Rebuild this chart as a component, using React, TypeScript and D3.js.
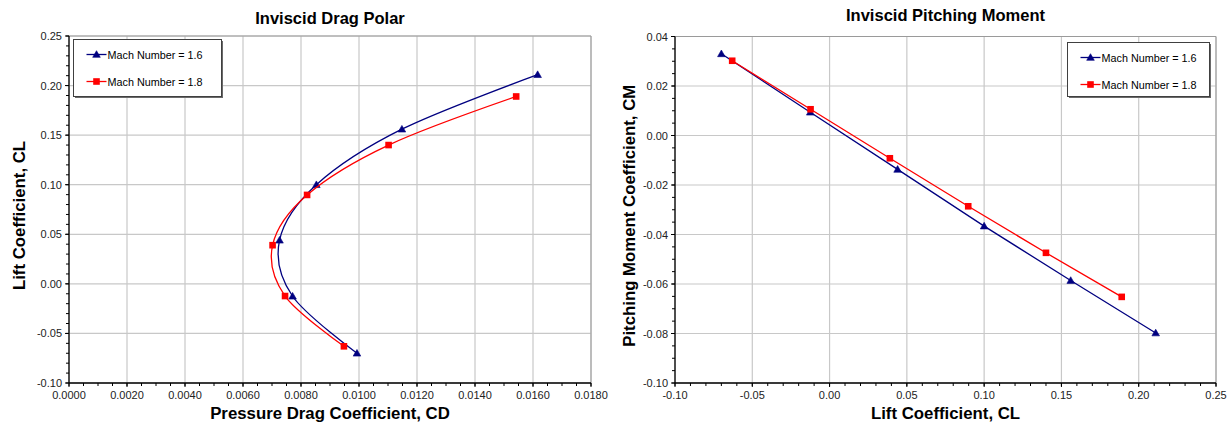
import React from "react";
import * as d3 from "d3";

// ---- Data ----
const SERIES_NAMES = ["Mach Number = 1.6", "Mach Number = 1.8"];

// Mach 1.6
const CL_M16 = [-0.07, -0.0125, 0.044, 0.1, 0.156, 0.211];
const CD_M16 = [0.00993, 0.00771, 0.00726, 0.00853, 0.01148, 0.01616];
const CM_M16 = [0.033, 0.0094, -0.0137, -0.0366, -0.0586, -0.0798];

// Mach 1.8
const CL_M18 = [-0.063, -0.0123, 0.039, 0.0897, 0.14, 0.189];
const CD_M18 = [0.00948, 0.00745, 0.00702, 0.00821, 0.01102, 0.01542];
const CM_M18 = [0.0302, 0.0106, -0.0092, -0.0286, -0.0474, -0.0652];

const COLORS = ["#000080", "#ff0000"];
const FONT = "'Liberation Sans', Arial, sans-serif";

type Series = { name: string; xs: number[]; ys: number[]; color: string; marker: "tri" | "sq" };

type ChartProps = {
  title: string;
  titleY: number;
  xLabel: string;
  yLabel: string;
  yLabelX: number;
  yLabelShift: number;
  xDomain: [number, number];
  yDomain: [number, number];
  xRange: [number, number];
  yRange: [number, number];
  xMajor: number;
  xMinor: number;
  yMajor: number;
  yMinor: number;
  xFmt: (v: number) => string;
  yFmt: (v: number) => string;
  series: Series[];
  smooth: boolean;
  legend: { x: number; y: number; w: number; h: number };
};

function fixZero(v: number) {
  return Math.abs(v) < 1e-12 ? 0 : v;
}

function Marker({ type, x, y, color }: { type: string; x: number; y: number; color: string }) {
  if (type === "tri") {
    const s = 3.8;
    return (
      <path
        d={`M${x},${y - s}L${x + s},${y + s * 0.75}L${x - s},${y + s * 0.75}Z`}
        fill={color}
        stroke={color}
        strokeWidth={0.6}
      />
    );
  }
  const s = 3.3;
  return <rect x={x - s} y={y - s} width={2 * s} height={2 * s} fill={color} />;
}

function Chart(p: ChartProps) {
  const x = d3.scaleLinear().domain(p.xDomain).range(p.xRange);
  const y = d3.scaleLinear().domain(p.yDomain).range(p.yRange);
  const xMaj = d3.ticks(p.xDomain[0], p.xDomain[1], p.xMajor).map(fixZero);
  const xMin = d3.ticks(p.xDomain[0], p.xDomain[1], p.xMinor).map(fixZero);
  const yMaj = d3.ticks(p.yDomain[0], p.yDomain[1], p.yMajor).map(fixZero);
  const yMin = d3.ticks(p.yDomain[0], p.yDomain[1], p.yMinor).map(fixZero);
  const [x0, x1] = p.xRange;
  const [yb, yt] = p.yRange;
  const line = d3
    .line<[number, number]>()
    .x((d) => x(d[0]))
    .y((d) => y(d[1]))
    .curve(p.smooth ? d3.curveCardinal.tension(0) : d3.curveLinear);
  const cx = (x0 + x1) / 2;
  const cy = (yb + yt) / 2 + p.yLabelShift;
  const L = p.legend;
  return (
    <g fontFamily={FONT}>
      <text x={cx} y={p.titleY} textAnchor="middle" fontWeight="bold" fontSize={16.5} fill="#000">
        {p.title}
      </text>
      {/* grid */}
      {xMaj.map((v, i) => (
        <line key={"gx" + i} x1={x(v)} x2={x(v)} y1={yb} y2={yt} stroke="#c8c8c8" strokeWidth={1.2} />
      ))}
      {yMaj.map((v, i) => (
        <line key={"gy" + i} x1={x0} x2={x1} y1={y(v)} y2={y(v)} stroke="#c8c8c8" strokeWidth={1.2} />
      ))}
      {/* frame */}
      <line x1={x0} x2={x1} y1={yt} y2={yt} stroke="#9a9a9a" strokeWidth={1} />
      <line x1={x1} x2={x1} y1={yt} y2={yb} stroke="#9a9a9a" strokeWidth={1} />
      {/* axes */}
      <line x1={x0} x2={x0} y1={yt} y2={yb} stroke="#000" strokeWidth={1.3} />
      <line x1={x0} x2={x1} y1={yb} y2={yb} stroke="#000" strokeWidth={1.3} />
      {xMin.map((v, i) => (
        <line key={"mx" + i} x1={x(v)} x2={x(v)} y1={yb} y2={yb + 3} stroke="#000" strokeWidth={1} />
      ))}
      {xMaj.map((v, i) => (
        <line key={"Mx" + i} x1={x(v)} x2={x(v)} y1={yb} y2={yb + 4} stroke="#000" strokeWidth={1} />
      ))}
      {yMin.map((v, i) => (
        <line key={"my" + i} x1={x0 - 3} x2={x0} y1={y(v)} y2={y(v)} stroke="#000" strokeWidth={1} />
      ))}
      {yMaj.map((v, i) => (
        <line key={"My" + i} x1={x0 - 4} x2={x0} y1={y(v)} y2={y(v)} stroke="#000" strokeWidth={1} />
      ))}
      {xMaj.map((v, i) => (
        <text key={"tx" + i} x={x(v)} y={yb + 16} textAnchor="middle" fontSize={11} fill="#222">
          {p.xFmt(v)}
        </text>
      ))}
      {yMaj.map((v, i) => (
        <text key={"ty" + i} x={x0 - 7} y={y(v) + 4} textAnchor="end" fontSize={11} fill="#222">
          {p.yFmt(v)}
        </text>
      ))}
      <text x={cx} y={yb + 36} textAnchor="middle" fontWeight="bold" fontSize={16.8} fill="#000">
        {p.xLabel}
      </text>
      <text
        transform={`translate(${p.yLabelX},${cy}) rotate(-90)`}
        textAnchor="middle"
        fontWeight="bold"
        fontSize={16.8}
        fill="#000"
      >
        {p.yLabel}
      </text>
      {/* series */}
      {p.series.map((s, si) => {
        const pts = s.xs.map((v, i) => [v, s.ys[i]] as [number, number]);
        return (
          <g key={"s" + si}>
            <path d={line(pts) || ""} fill="none" stroke={s.color} strokeWidth={1.3} />
            {pts.map((d, i) => (
              <Marker key={i} type={s.marker} x={x(d[0])} y={y(d[1])} color={s.color} />
            ))}
          </g>
        );
      })}
      {/* legend */}
      <rect x={L.x + 1.5} y={L.y + 1.5} width={L.w} height={L.h} fill="#6a6a6a" />
      <rect x={L.x} y={L.y} width={L.w} height={L.h} fill="#fff" stroke="#404040" strokeWidth={1} />
      {p.series.map((s, si) => {
        const ly = L.y + 15 + si * 27;
        const lx = L.x + 13;
        return (
          <g key={"l" + si}>
            <line x1={lx} x2={lx + 20} y1={ly} y2={ly} stroke={s.color} strokeWidth={1.3} />
            <Marker type={s.marker} x={lx + 10} y={ly} color={s.color} />
            <text x={lx + 21} y={ly + 4} fontSize={10.8} fill="#000">
              {s.name}
            </text>
          </g>
        );
      })}
    </g>
  );
}

const f2 = (v: number) => v.toFixed(2);
const f4 = (v: number) => v.toFixed(4);

export default function App() {
  const polarSeries: Series[] = [
    { name: SERIES_NAMES[0], xs: CD_M16, ys: CL_M16, color: COLORS[0], marker: "tri" },
    { name: SERIES_NAMES[1], xs: CD_M18, ys: CL_M18, color: COLORS[1], marker: "sq" },
  ];
  const momentSeries: Series[] = [
    { name: SERIES_NAMES[0], xs: CL_M16, ys: CM_M16, color: COLORS[0], marker: "tri" },
    { name: SERIES_NAMES[1], xs: CL_M18, ys: CM_M18, color: COLORS[1], marker: "sq" },
  ];
  return (
    <svg
      width={1231}
      height={425}
      style={{ position: "absolute", left: 0, top: 0, background: "#fff" }}
    >
      <rect x={0} y={0} width={1231} height={425} fill="#fff" />
      <Chart
        title="Inviscid Drag Polar"
        titleY={24}
        xLabel="Pressure Drag Coefficient, CD"
        yLabel="Lift Coefficient, CL"
        yLabelX={25}
        yLabelShift={6}
        xDomain={[0, 0.018]}
        yDomain={[-0.1, 0.25]}
        xRange={[69, 591]}
        yRange={[383, 36]}
        xMajor={9}
        xMinor={36}
        yMajor={7}
        yMinor={35}
        xFmt={f4}
        yFmt={f2}
        series={polarSeries}
        smooth={true}
        legend={{ x: 73.5, y: 39.5, w: 148, h: 57 }}
      />
      <Chart
        title="Inviscid Pitching Moment"
        titleY={21}
        xLabel="Lift Coefficient, CL"
        yLabel="Pitching Moment Coefficient, CM"
        yLabelX={635}
        yLabelShift={6}
        xDomain={[-0.1, 0.25]}
        yDomain={[-0.1, 0.04]}
        xRange={[675, 1216]}
        yRange={[383, 36.5]}
        xMajor={7}
        xMinor={35}
        yMajor={7}
        yMinor={28}
        xFmt={f2}
        yFmt={f2}
        series={momentSeries}
        smooth={false}
        legend={{ x: 1067.5, y: 42.5, w: 142, h: 54 }}
      />
    </svg>
  );
}
